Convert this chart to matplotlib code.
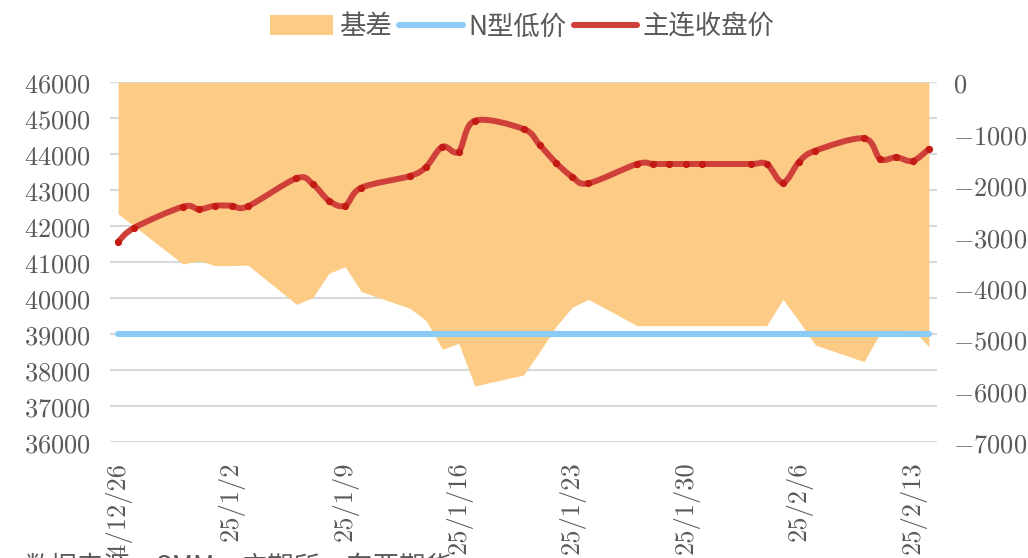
import matplotlib
matplotlib.use("Agg")
import matplotlib.pyplot as plt
import matplotlib.dates as mdates
from matplotlib.path import Path
from matplotlib.patches import PathPatch, Patch
from matplotlib.lines import Line2D
from matplotlib.ticker import FuncFormatter, FixedLocator
import numpy as np
import datetime as dt

plt.rcParams['mathtext.fontset'] = 'cm'
plt.rcParams['font.family'] = ['Noto Sans CJK SC', 'DejaVu Sans']

# ---------------- data ----------------
dates = ["2024-12-26", "2024-12-27", "2024-12-30", "2024-12-31",
         "2025-01-01", "2025-01-02", "2025-01-03",
         "2025-01-06", "2025-01-07", "2025-01-08", "2025-01-09", "2025-01-10",
         "2025-01-13", "2025-01-14", "2025-01-15", "2025-01-16", "2025-01-17",
         "2025-01-20", "2025-01-21", "2025-01-22", "2025-01-23", "2025-01-24",
         "2025-01-27", "2025-01-28", "2025-01-29", "2025-01-30", "2025-01-31",
         "2025-02-03", "2025-02-04", "2025-02-05", "2025-02-06", "2025-02-07",
         "2025-02-10", "2025-02-11", "2025-02-12", "2025-02-13", "2025-02-14"]

main_close = [41570, 41961, 42544, 42472,
              42572, 42572, 42555,
              43333, 43175, 42711, 42572, 43072,
              43397, 43656, 44211, 44072, 44933,
              44703, 44258, 43767, 43378, 43194,
              43731, 43731, 43731, 43731, 43731,
              43731, 43731, 43211, 43794, 44100,
              44444, 43869, 43917, 43814, 44147]

n_type_low = [39000] * 37

basis = [-2560, -2800, -3533, -3470,
         -3565, -3565, -3553,
         -4317, -4188, -3715, -3585, -4071,
         -4395, -4635, -5192, -5075, -5905,
         -5691, -5237, -4751, -4375, -4220,
         -4732, -4732, -4732, -4732, -4732,
         -4732, -4732, -4220, -4650, -5108,
         -5432, -4875, -4850, -4815, -5140]

tick_dates = ["2024-12-26", "2025-01-02", "2025-01-09", "2025-01-16",
              "2025-01-23", "2025-01-30", "2025-02-06", "2025-02-13"]
tick_labels = ["24/12/26", "25/1/2", "25/1/9", "25/1/16",
               "25/1/23", "25/1/30", "25/2/6", "25/2/13"]

left_ticks = [36000, 37000, 38000, 39000, 40000, 41000, 42000, 43000, 44000, 45000, 46000]
right_ticks = [0, -1000, -2000, -3000, -4000, -5000, -6000, -7000]

labels = ["基差", "N型低价", "主连收盘价"]

# ---------------- style ----------------
ORANGE = '#FCCB86'
BLUE = '#8DCBF7'
RED = '#D0403A'
MARK = '#C41A14'
TXT = '#595959'
GRID = '#D9D9D9'
FS = 19

x = mdates.date2num([dt.datetime.strptime(d, "%Y-%m-%d") for d in dates])
xt = mdates.date2num([dt.datetime.strptime(d, "%Y-%m-%d") for d in tick_dates])

fig = plt.figure(figsize=(10.28, 5.58), dpi=100)
pos = [110/1028, (558-442.3)/558, 827/1028, 360/558]

ax1 = fig.add_axes(pos)           # left scale, gridlines
ax2 = ax1.twinx()                  # right scale, area
ax3 = fig.add_axes(pos, sharex=ax1, sharey=ax1)  # lines on top

ax1.set_zorder(1)
ax2.set_zorder(2)
ax3.set_zorder(3)
ax2.patch.set_visible(False)
ax3.patch.set_visible(False)

xlim = (x[0] - 0.5, x[-1] + 0.5)
ax1.set_xlim(*xlim)
ax1.set_ylim(36000, 46000)
ax2.set_ylim(-7000, 0)

# gridlines
ax1.yaxis.set_major_locator(FixedLocator(left_ticks))
ax1.grid(axis='y', color=GRID, linewidth=1.5)
ax1.grid(axis='x', visible=False)
ax1.yaxis.set_major_formatter(FuncFormatter(lambda v, p: r'$%d$' % v))
ax1.tick_params(axis='y', length=0, pad=13.5, labelsize=FS, labelcolor=TXT)
ax1.xaxis.set_major_locator(FixedLocator(xt))
ax1.set_xticklabels(tick_labels)
ax1.tick_params(axis='x', length=0, pad=14, labelsize=FS, labelcolor=TXT,
                labelrotation=90)
for lab in ax1.get_xticklabels():
    lab.set_fontfamily('cmr10')

ax2.yaxis.set_major_locator(FixedLocator(right_ticks))
ax2.yaxis.set_major_formatter(FuncFormatter(lambda v, p: r'$%d$' % v))
ax2.tick_params(axis='y', length=0, pad=11.5, labelsize=FS, labelcolor=TXT)

# area
ax2.fill_between(x, basis, 0, color=ORANGE, linewidth=0)

# blue line
ax3.plot(x, n_type_low, color=BLUE, lw=4.4, solid_capstyle='round')

# smoothed red line (Excel-like Bezier through data points)
pts = np.column_stack([x, main_close])
verts = [tuple(pts[0])]
codes = [Path.MOVETO]
n = len(pts)
t = 1/6
for i in range(n - 1):
    p0 = pts[i - 1] if i > 0 else pts[i]
    p1 = pts[i]
    p2 = pts[i + 1]
    p3 = pts[i + 2] if i + 2 < n else pts[i + 1]
    c1 = p1 + (p2 - p0) * t
    c2 = p2 - (p3 - p1) * t
    verts += [tuple(c1), tuple(c2), tuple(p2)]
    codes += [Path.CURVE4] * 3
ax3.add_patch(PathPatch(Path(verts, codes), fill=False, edgecolor=RED,
                        lw=4.3, capstyle='round', joinstyle='round'))
ax3.plot(x, main_close, ls='none', marker='o', ms=4.2, color=MARK, mec=MARK)

for a in (ax1, ax2, ax3):
    for s in a.spines.values():
        s.set_visible(False)
ax3.tick_params(left=False, bottom=False, labelleft=False, labelbottom=False)

# legend
handles = [Patch(facecolor=ORANGE, edgecolor='none'),
           Line2D([], [], color=BLUE, lw=4.4, solid_capstyle='round'),
           Line2D([], [], color=RED, lw=4.4, solid_capstyle='round')]
fig.legend(handles, labels, loc='center', bbox_to_anchor=(0.508, 0.952), ncol=3,
           frameon=False, fontsize=FS, labelcolor=TXT, handlelength=2.4,
           handleheight=0.75, handletextpad=0.2, columnspacing=0.3)

fig.text(25/1028, 4/558, "数据来源：SMM，广期所，东亚期货", fontsize=FS,
         color=TXT, va='top', ha='left')

fig.savefig("out.png", dpi=100)
